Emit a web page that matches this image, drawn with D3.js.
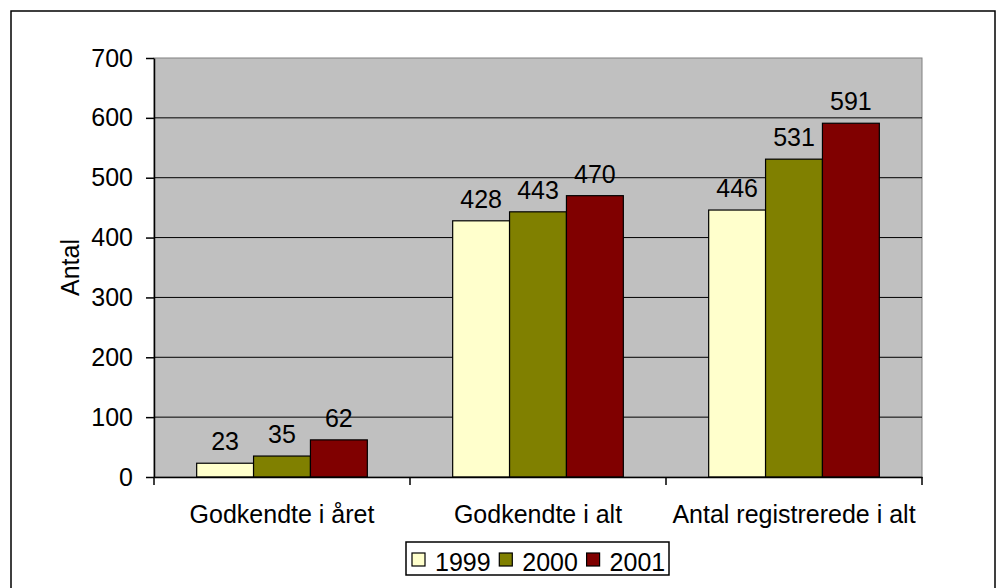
<!DOCTYPE html>
<html>
<head>
<meta charset="utf-8">
<script src="https://cdn.jsdelivr.net/npm/d3@7"></script>
<style>
  body { margin: 0; background: #fff; }
  svg { display: block; font-family: "Liberation Sans", Arial, sans-serif; }
</style>
</head>
<body>
<svg width="996" height="588"></svg>
<script>
// data
const categories = ["Godkendte i året", "Godkendte i alt", "Antal registrerede i alt"];
const years = ["1999", "2000", "2001"];
const values1999 = [23, 428, 446];
const values2000 = [35, 443, 531];
const values2001 = [62, 470, 591];
const yTicks = [0, 100, 200, 300, 400, 500, 600, 700];
const colors = ["#FFFFCC", "#808000", "#800000"];

const series = [values1999, values2000, values2001];
const rows = [];
categories.forEach((c, i) => {
    years.forEach((y, j) => {
        rows.push({ cat: c, year: y, value: series[j][i], color: colors[j] });
    });
});

const svg = d3.select("svg");
const fontSize = 25;

// outer chart border
svg.append("rect")
    .attr("x", 11).attr("y", 11)
    .attr("width", 984).attr("height", 600)
    .attr("fill", "#fff")
    .attr("stroke", "#000")
    .attr("stroke-width", 1.5);

const plot = { left: 154, right: 922, top: 58, bottom: 477 };

const y = d3.scaleLinear().domain([0, 700]).range([plot.bottom, plot.top]);
const x0 = d3.scaleBand().domain(categories).range([plot.left, plot.right]).padding(0);
// gap width 150% -> bar = band / 4.5
const bw = x0.bandwidth() / 4.5;
const x1 = d3.scaleBand().domain(years).range([bw * 0.75, bw * 3.75]).padding(0);

// plot area
svg.append("rect")
    .attr("x", plot.left).attr("y", plot.top)
    .attr("width", plot.right - plot.left).attr("height", plot.bottom - plot.top)
    .attr("fill", "#C0C0C0")
    .attr("stroke", "#808080")
    .attr("stroke-width", 1);

// gridlines
svg.append("g")
    .selectAll("line")
    .data(yTicks.filter(d => d > 0 && d < 700))
    .enter()
    .append("line")
    .attr("x1", plot.left).attr("x2", plot.right)
    .attr("y1", d => y(d)).attr("y2", d => y(d))
    .attr("stroke", "#000")
    .attr("stroke-width", 1);

// bars
svg.append("g")
    .selectAll("rect")
    .data(rows)
    .enter()
    .append("rect")
    .attr("x", d => x0(d.cat) + x1(d.year))
    .attr("y", d => y(d.value))
    .attr("width", x1.bandwidth())
    .attr("height", d => y(0) - y(d.value))
    .attr("fill", d => d.color)
    .attr("stroke", "#000")
    .attr("stroke-width", 1.2);

// data labels
svg.append("g")
    .selectAll("text")
    .data(rows)
    .enter()
    .append("text")
    .attr("x", d => x0(d.cat) + x1(d.year) + x1.bandwidth() / 2)
    .attr("y", d => y(d.value) - 13)
    .attr("text-anchor", "middle")
    .attr("font-size", fontSize)
    .attr("fill", "#000")
    .text(d => d.value);

// y axis
const yAxis = svg.append("g")
    .attr("transform", `translate(${plot.left},0)`)
    .call(d3.axisLeft(y).tickValues(yTicks).tickSize(8).tickPadding(13).tickSizeOuter(0));
yAxis.selectAll("text").attr("font-size", fontSize).attr("fill", "#000").attr("font-family", null);
yAxis.selectAll("line").attr("stroke", "#000").attr("stroke-width", 1.5);
yAxis.select(".domain").attr("stroke", "#000").attr("stroke-width", 1.5);

// x axis
const xAxis = svg.append("g")
    .attr("transform", `translate(0,${plot.bottom})`)
    .call(d3.axisBottom(x0).tickSize(0).tickPadding(28).tickSizeOuter(0));
xAxis.selectAll("text").attr("font-size", fontSize).attr("fill", "#000").attr("font-family", null);
xAxis.select(".domain").attr("stroke", "#000").attr("stroke-width", 1.5);
xAxis.selectAll(".tick line").remove();

const boundaries = categories.map(c => x0(c)).concat([x0(categories[categories.length - 1]) + x0.bandwidth()]);
xAxis.selectAll("line.bound")
    .data(boundaries)
    .enter()
    .append("line")
    .attr("class", "bound")
    .attr("x1", d => d).attr("x2", d => d)
    .attr("y1", 0).attr("y2", 8)
    .attr("stroke", "#000")
    .attr("stroke-width", 1.5);

// y axis title
svg.append("text")
    .attr("transform", `translate(79,${(plot.top + plot.bottom) / 2}) rotate(-90)`)
    .attr("text-anchor", "middle")
    .attr("font-size", fontSize)
    .attr("fill", "#000")
    .text("Antal");

// legend
const legend = svg.append("g").attr("transform", "translate(406,542)");
legend.append("rect")
    .attr("width", 263).attr("height", 33)
    .attr("fill", "#fff")
    .attr("stroke", "#000")
    .attr("stroke-width", 1.5);

const item = legend.selectAll("g.item")
    .data(years)
    .enter()
    .append("g")
    .attr("class", "item")
    .attr("transform", (d, i) => `translate(${6 + i * 87.3},11)`);

item.append("rect")
    .attr("width", 13).attr("height", 13)
    .attr("fill", (d, i) => colors[i])
    .attr("stroke", "#000")
    .attr("stroke-width", 1.2);

item.append("text")
    .attr("x", 23)
    .attr("y", 18)
    .attr("font-size", fontSize)
    .attr("fill", "#000")
    .text(d => d);
</script>
</body>
</html>
